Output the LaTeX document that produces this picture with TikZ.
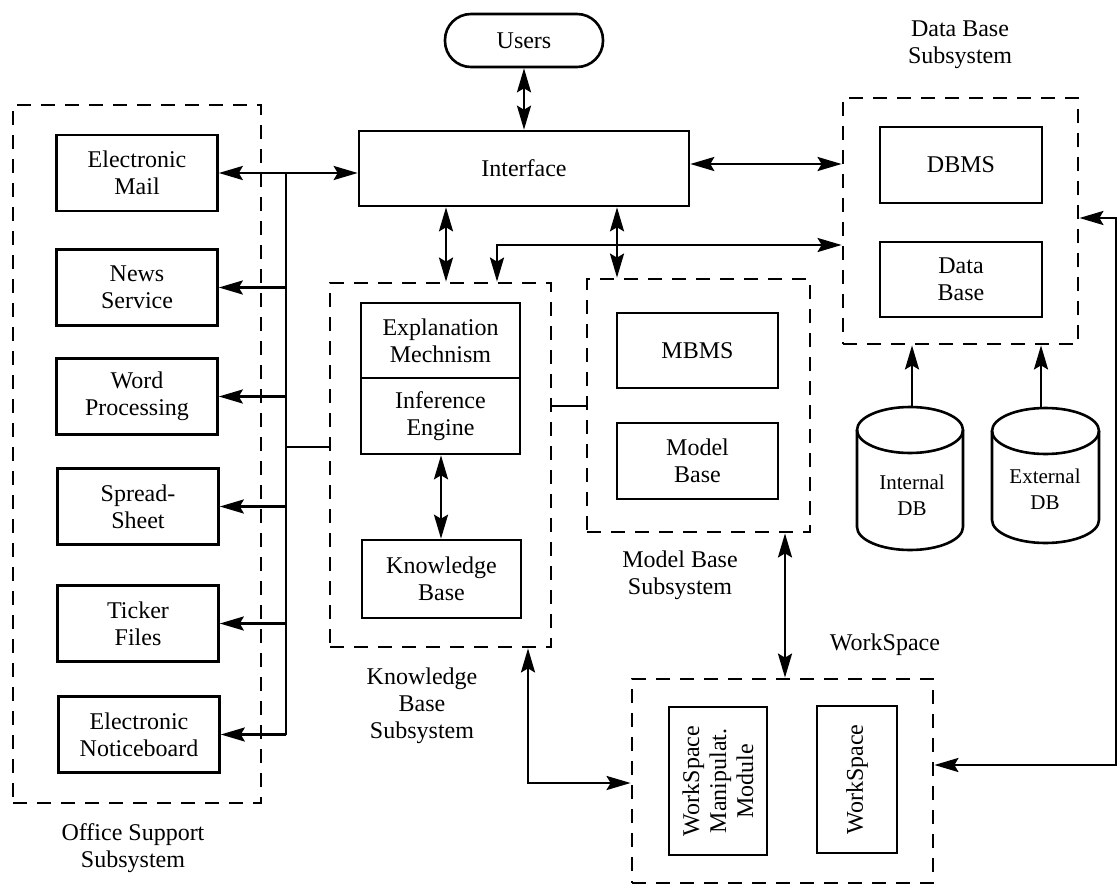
\documentclass[tikz,border=0pt]{standalone}
\usepackage{fontspec}
\setmainfont{Liberation Serif}
\usetikzlibrary{arrows.meta,calc}

% cylinder outline drawn around a named placeholder node: #1 = centre x, #2 = top y, #3 = bottom y, #4 = half width (all in px)
\newcommand\drumoutline[4]{%
  \draw[line width=2.6pt] (#1,#2+23) ellipse [x radius=#4pt, y radius=23pt];
  \draw[line width=2.6pt] (#1-#4,#2+23) -- (#1-#4,#3-23)
     arc[start angle=180, end angle=360, x radius=#4pt, y radius=23pt]
     -- (#1+#4,#2+23);
}

\begin{document}
\begin{tikzpicture}[x=1pt,y=-1pt,
  box/.style={draw, line width=2.6pt, inner sep=0pt, align=center,
    font=\fontsize{24}{27}\selectfont, minimum width=161pt, minimum height=76pt},
  subsys/.style={draw, line width=2.8pt, dash pattern=on 14pt off 10pt, inner sep=0pt},
  lbl/.style={align=center, font=\fontsize{24}{27}\selectfont, inner sep=0pt},
  small/.style={align=center, font=\fontsize{21}{26}\selectfont, inner sep=0pt},
  link/.style={line width=2.5pt},
  both/.style={link, {Stealth[length=24pt,width=14pt,inset=4pt]}-{Stealth[length=24pt,width=14pt,inset=4pt]}},
  oneway/.style={link, -{Stealth[length=24pt,width=14pt,inset=4pt]}}
]
\fill[white] (0,0) rectangle (1120,886);
\useasboundingbox (0,0) rectangle (1120,886);

% ---------- subsystem frames ----------
\node[subsys, minimum width=248pt, minimum height=698pt] (oss) at (137,454) {};
\node[subsys, minimum width=221pt, minimum height=364pt] (kbs) at (440.5,465) {};
\node[subsys, minimum width=223pt, minimum height=253pt] (mbs) at (698.5,405.5) {};
\node[subsys, minimum width=235pt, minimum height=246pt] (dbs) at (960.5,221) {};
\node[subsys, minimum width=301pt, minimum height=204pt] (wss) at (782.5,781) {};

% ---------- top ----------
\node[draw, line width=2.6pt, rounded corners=26pt, minimum width=158pt, minimum height=53pt,
  inner sep=0pt, font=\fontsize{24}{27}\selectfont] (users) at (524,40.5) {Users};
\node[box, minimum width=330pt, minimum height=75pt] (iface) at (524,168.5) {Interface};

% ---------- office support ----------
\node[box] (mail)   at (137,173)   {Electronic\\Mail};
\node[box] (news)   at (137,287.5) {News\\Service};
\node[box] (word)   at (137,396.5) {Word\\Processing};
\node[box] (spread) at (138,506.5) {Spread-\\Sheet};
\node[box] (ticker) at (138,623.5) {Ticker\\Files};
\node[box] (notice) at (139,734.5) {Electronic\\Noticeboard};

% ---------- knowledge base ----------
\node[box, minimum width=159pt, minimum height=75pt] (expl)  at (440.5,340.5) {Explanation\\Mechnism};
\node[box, minimum width=159pt, minimum height=76pt] (infer) at (440.5,416) {Inference\\Engine};
\node[box, minimum width=159pt, minimum height=78pt] (kbase) at (441.5,579) {Knowledge\\Base};

% ---------- model base ----------
\node[box, minimum width=161pt, minimum height=75pt] (mbms)   at (697.5,350.5) {MBMS};
\node[box, minimum width=161pt, minimum height=76pt] (mbase)  at (697.5,461) {Model\\Base};

% ---------- data base ----------
\node[box, minimum width=162pt, minimum height=76pt] (dbms)  at (961,165) {DBMS};
\node[box, minimum width=162pt, minimum height=75pt] (dbase) at (961,279.5) {Data\\Base};

\node[minimum width=106pt, minimum height=143pt, inner sep=0pt] (idb) at (910,478.5) {};
\node[minimum width=107pt, minimum height=135pt, inner sep=0pt] (edb) at (1045.5,475.5) {};
\drumoutline{910}{407}{550}{53}
\drumoutline{1045.5}{408}{543}{53.5}
\node[small] (idbtext) at (912,495) {Internal\\DB};
\node[small] (edbtext) at (1045,489) {External\\DB};

% ---------- workspace ----------
\node[box, rotate=90, minimum width=148pt, minimum height=98pt] (wsman) at (718,781) {WorkSpace\\Manipulat.\\Module};
\node[box, rotate=90, minimum width=147pt, minimum height=80pt] (wsbox) at (857,779.5) {WorkSpace};

% ---------- subsystem captions ----------
\node[lbl] (dbslbl) at (960,45)  {Data Base\\Subsystem};
\node[lbl] (mbslbl) at (680,575) {Model Base\\Subsystem};
\node[lbl] (kbslbl) at (422,706) {Knowledge\\Base\\Subsystem};
\node[lbl] (osslbl) at (133,848) {Office Support\\Subsystem};
\node[lbl] (wslbl)  at (885,645) {WorkSpace};

% ---------- connectors ----------
\draw[both] (users.south) -- (iface.north);
\draw[both] (mail.east) -- (iface.west |- mail.east);

\coordinate (bustop) at (286,173);
\coordinate (busbot) at (286,734.5);
\draw[link] (bustop) -- (busbot);
\foreach \n in {news,word,spread,ticker,notice}
  \draw[oneway] (bustop |- \n.east) -- (\n.east);
\draw[link] (bustop |- 0,447) -- (kbs.west |- 0,447);

\draw[both] (iface.east |- 0,164) -- (dbs.west |- 0,164);
\draw[both] (iface.south -| 446,0) -- (kbs.north -| 446,0);
\draw[both] (iface.south -| 617,0) -- (mbs.north -| 617,0);
\coordinate (kbdbcorner) at (497,245);
\draw[both] (kbs.north -| kbdbcorner) -- (kbdbcorner) -- (dbs.west |- kbdbcorner);
\draw[link] (kbs.east |- 0,406) -- (mbs.west |- 0,406);
\draw[both] (infer.south -| 441,0) -- (kbase.north -| 441,0);
\draw[both] (mbs.south -| 785,0) -- (wss.north -| 785,0);
\coordinate (kbwscorner) at (528,783);
\draw[both] (kbs.south -| kbwscorner) -- (kbwscorner) -- (wss.west |- kbwscorner);

\draw[oneway] (idb.north -| 912,0) -- (dbs.south -| 912,0);
\draw[oneway] (edb.north -| 1041,0) -- (dbs.south -| 1041,0);

\coordinate (rtop) at (1116,218);
\coordinate (rbot) at (1116,765);
\draw[both] (dbs.east |- rtop) -- (rtop) -- (rbot) -- (wss.east |- rbot);
\end{tikzpicture}
\end{document}
